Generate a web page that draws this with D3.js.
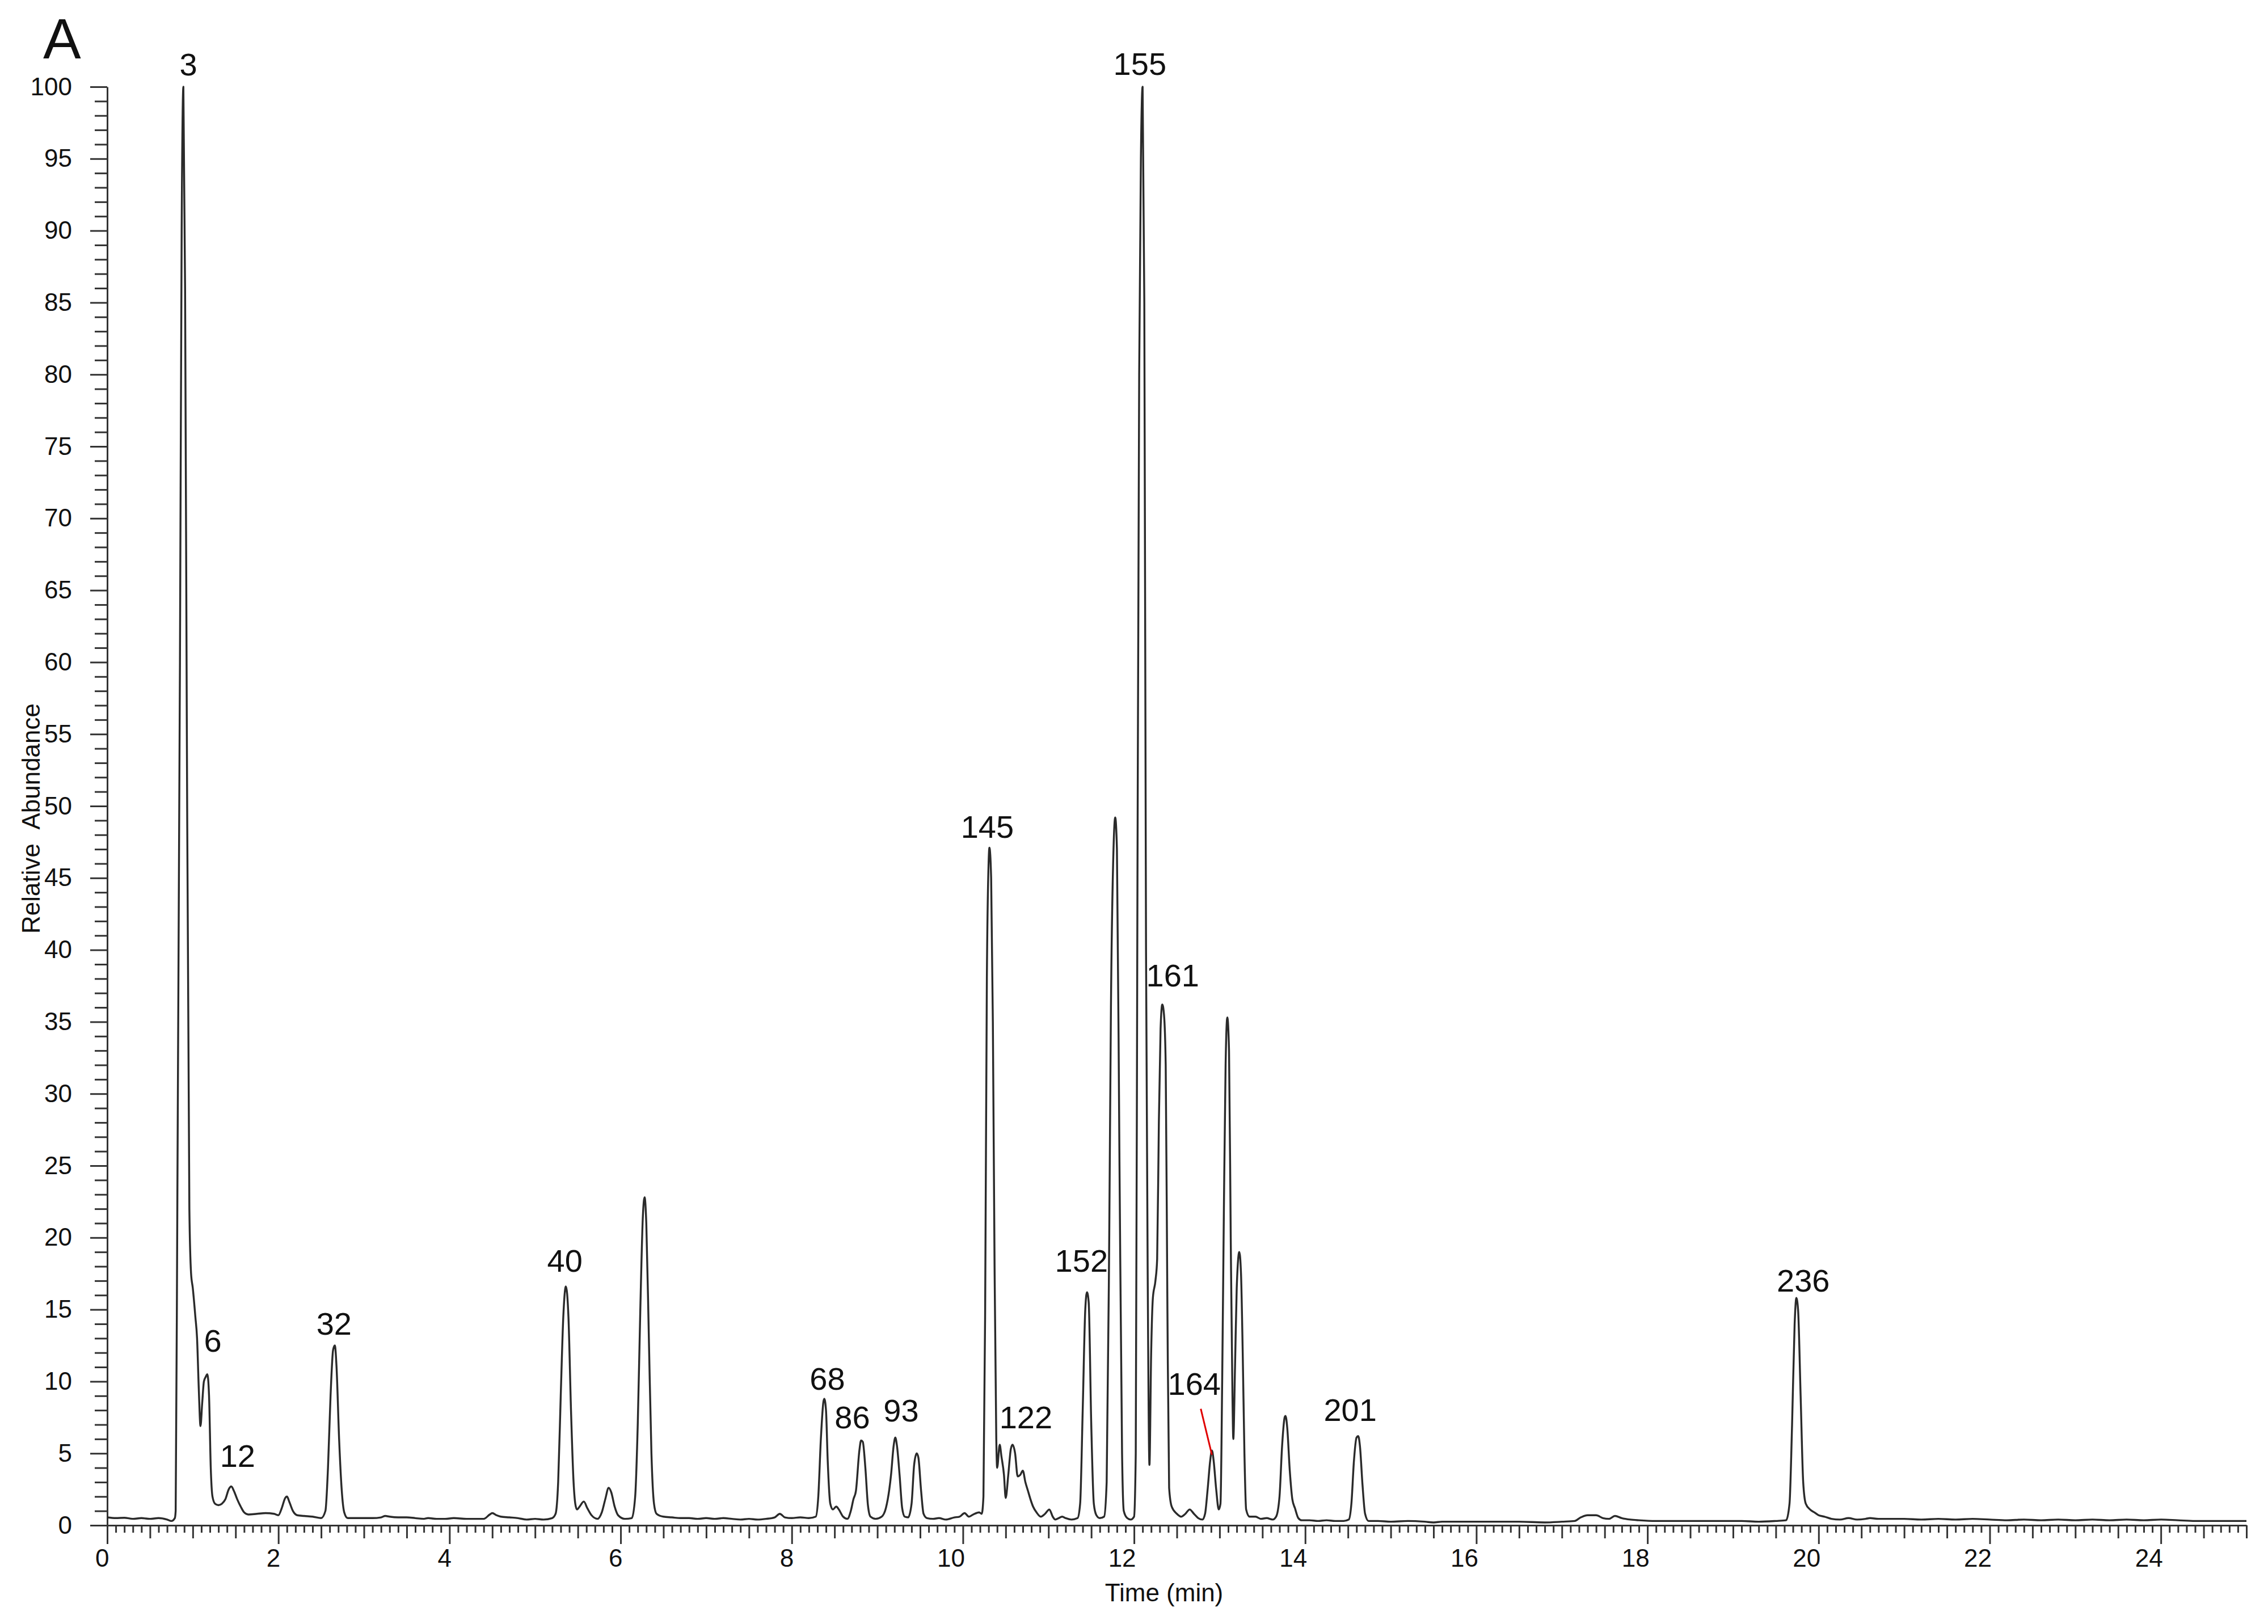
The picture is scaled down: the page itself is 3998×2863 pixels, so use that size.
<!DOCTYPE html>
<html>
<head>
<meta charset="utf-8">
<script src="https://cdn.jsdelivr.net/npm/d3@7"></script>
<style>
  html, body { margin: 0; padding: 0; background: #fff; }
  svg { display: block; }
  text { font-family: "Liberation Sans", Arial, sans-serif; fill: #111; }
</style>
</head>
<body>
<script>
// ---- Data: chromatogram trace (time in min, relative abundance %) ----
const traceTime = [
  0.00,0.10,0.20,0.30,0.40,0.50,0.60,0.70,0.75,0.79,
  0.80,0.82,0.85,0.87,0.89,0.91,0.93,0.96,0.98,1.00,1.03,1.05,1.07,1.09,1.11,1.13,1.15,1.17,1.19,1.21,1.23,1.26,1.30,1.34,1.38,1.42,1.45,1.48,1.52,1.56,1.60,1.65,1.75,1.85,1.95,
  2.00,2.04,2.08,2.10,2.13,2.17,2.22,2.30,2.40,2.50,2.55,2.58,2.61,2.64,2.66,2.68,2.71,2.74,2.77,2.81,2.90,3.00,3.10,3.20,3.25,3.30,3.40,3.50,3.60,3.70,3.75,3.85,3.95,
  4.05,4.20,4.40,4.47,4.50,4.55,4.60,4.70,4.80,4.90,5.00,5.10,5.20,
  5.24,5.27,5.30,5.33,5.36,5.39,5.42,5.45,5.47,5.49,5.52,5.57,5.61,5.66,5.73,5.78,5.82,5.86,5.89,5.93,5.97,
  6.05,6.13,6.17,6.20,6.23,6.26,6.28,6.30,6.33,6.36,6.39,6.42,6.50,6.60,6.70,6.80,6.90,
  7.00,7.10,7.20,7.30,7.40,7.50,7.60,7.70,7.80,7.86,7.92,
  8.00,8.10,8.20,8.28,8.31,8.34,8.37,8.38,8.40,8.42,8.45,8.48,8.52,8.55,8.60,8.65,8.69,8.72,8.75,8.79,8.81,8.83,8.86,8.89,8.92,8.98,
  9.05,9.10,9.14,9.16,9.19,9.21,9.23,9.26,9.29,9.32,9.36,9.40,9.43,9.46,9.48,9.51,9.54,9.58,9.65,9.72,9.80,9.90,9.96,
  10.02,10.07,10.12,10.19,10.22,10.24,10.26,10.28,10.30,10.31,10.33,10.35,10.37,10.39,10.40,10.43,10.45,10.48,10.50,10.53,10.56,10.58,10.61,10.64,10.67,10.70,10.73,10.76,10.79,10.82,10.86,10.91,10.96,
  11.01,11.05,11.08,11.12,11.16,11.20,11.27,11.34,11.37,11.40,11.43,11.45,11.47,11.50,11.53,11.56,11.60,11.65,11.68,11.71,11.73,11.76,11.78,11.80,11.83,11.86,11.88,11.92,11.96,
  12.00,12.02,12.04,12.06,12.08,12.10,12.12,12.14,12.16,12.18,12.20,12.22,12.25,12.27,12.29,12.31,12.33,12.35,12.37,12.39,12.41,12.44,12.50,12.55,12.60,12.65,12.70,12.75,12.80,
  12.83,12.86,12.89,12.91,12.93,12.96,12.99,13.01,13.03,13.05,13.07,13.09,13.11,13.13,13.15,13.16,13.18,13.20,13.23,13.25,13.27,13.29,13.31,13.35,13.42,13.48,13.55,13.62,13.66,
  13.70,13.73,13.76,13.77,13.79,13.82,13.85,13.88,13.92,13.96,14.05,14.15,14.25,14.35,14.45,14.51,
  14.54,14.57,14.60,14.62,14.64,14.67,14.70,14.74,14.85,15.00,15.20,15.40,15.50,15.60,15.80,16.00,16.20,16.50,16.80,17.00,
  17.15,17.22,17.30,17.40,17.48,17.55,17.62,17.70,17.80,17.90,18.10,18.30,18.50,18.70,18.90,19.10,19.30,19.50,19.62,
  19.66,19.69,19.72,19.74,19.76,19.79,19.82,19.85,19.90,19.95,20.00,20.07,20.15,20.25,20.35,20.45,20.55,20.60,20.70,20.85,
  21.00,21.20,21.40,21.60,21.80,22.00,22.20,22.40,22.60,22.80,23.00,23.20,23.40,23.60,23.80,24.00,24.20,24.40,24.60,24.80,25.00
];
const traceAbundance = [
  0.55,0.50,0.52,0.45,0.50,0.45,0.50,0.40,0.30,0.50,
  1.0,23,60,90,100,86,56,22,17.5,16.5,14.5,13.0,9.5,6.9,8.5,10.0,10.3,10.5,9.0,4.0,2.0,1.5,1.4,1.5,1.8,2.5,2.7,2.4,1.8,1.3,0.9,0.75,0.8,0.85,0.8,
  0.7,1.2,1.9,2.0,1.6,1.0,0.7,0.65,0.6,0.5,1.0,4.0,9.0,12.2,12.5,11.0,6.0,2.5,0.9,0.5,0.5,0.5,0.5,0.55,0.65,0.6,0.55,0.55,0.5,0.45,0.5,0.45,0.45,
  0.5,0.45,0.45,0.75,0.85,0.7,0.6,0.55,0.5,0.4,0.45,0.4,0.5,
  0.8,3.0,9.0,14.5,16.6,14.5,8.0,3.0,1.5,1.1,1.3,1.65,1.2,0.7,0.45,0.9,1.8,2.6,2.3,1.3,0.7,
  0.45,0.5,2.0,7.0,15.0,21.5,22.8,21.0,13.0,5.0,1.5,0.8,0.6,0.55,0.5,0.5,0.45,
  0.5,0.45,0.5,0.45,0.4,0.45,0.4,0.45,0.55,0.8,0.55,
  0.5,0.55,0.5,0.6,2.0,6.0,8.6,8.8,8.0,4.5,1.5,1.1,1.3,1.1,0.6,0.45,1.0,1.8,2.4,5.2,5.9,5.8,4.0,1.4,0.6,0.45,
  0.6,1.2,2.5,3.5,5.5,6.1,5.5,3.5,1.2,0.6,0.55,1.5,4.2,5.0,4.7,2.5,0.8,0.5,0.45,0.5,0.4,0.55,0.6,
  0.85,0.6,0.75,0.9,0.8,2.0,15,38,46,47.1,45,35,18,6.0,4.0,5.6,4.8,3.5,1.9,3.5,5.3,5.6,5.0,3.4,3.5,3.8,3.0,2.4,1.8,1.3,0.9,0.6,0.8,
  1.1,0.6,0.4,0.5,0.6,0.5,0.4,0.5,1.5,8.0,15,16.2,15.5,7.0,1.5,0.7,0.5,0.6,3.0,20,36,47,49.2,47,25,5.0,1.0,0.5,0.4,
  0.6,5.0,45,80,95,100,85,40,17,4.2,12,15.8,17,18.5,28,34.5,36.2,35.5,32,15,2.6,1.3,0.8,0.6,0.8,1.1,0.8,0.5,0.4,
  0.8,2.5,4.5,5.2,4.5,2.5,1.1,1.5,10,22,32,35.3,33,20,9.0,6.0,11,16.5,19.0,17.5,12,5.0,1.1,0.6,0.6,0.45,0.5,0.4,0.6,
  2.0,5.5,7.5,7.6,6.8,3.8,1.8,1.2,0.5,0.35,0.35,0.3,0.35,0.3,0.3,0.4,
  1.5,4.5,6.1,6.2,5.5,2.8,0.8,0.3,0.3,0.25,0.3,0.25,0.2,0.25,0.25,0.25,0.25,0.25,0.2,0.25,
  0.3,0.55,0.7,0.7,0.5,0.45,0.65,0.5,0.4,0.35,0.3,0.3,0.3,0.3,0.3,0.3,0.25,0.3,0.35,
  1.5,7.0,14,15.8,15,9.0,3.0,1.5,1.1,0.9,0.7,0.6,0.45,0.4,0.5,0.4,0.45,0.5,0.45,0.45,
  0.45,0.4,0.45,0.4,0.45,0.4,0.35,0.4,0.35,0.4,0.35,0.4,0.35,0.4,0.35,0.4,0.35,0.3,0.3,0.3,0.3
];

// Peak annotations: compound number, retention time of label, label height (% abundance)
const peakLabels    = ["3","6","12","32","40","68","86","93","145","122","152","155","161","164","201","236"];
const peakLabelTime = [0.948,1.233,1.524,2.651,5.348,8.416,8.708,9.278,10.285,10.736,11.385,12.068,12.452,12.704,14.526,19.821];
const peakLabelAbund= [100.8,12.07,4.06,13.25,17.63,9.42,6.74,7.22,47.79,6.74,17.63,100.83,37.46,9.07,7.26,16.25];

// Callout for peak 164 (from label to peak)
const calloutTime  = [12.78, 12.91];
const calloutAbund = [8.1, 4.9];

// Axis ticks
const yMajorTicks = d3.range(0, 101, 5);
const yMinorTicks = d3.range(0, 101, 1).filter(v => v % 5 !== 0);
const xMajorTicks = d3.range(0, 25, 2);
const xMidTicks   = d3.range(0, 25.01, 0.5).filter(v => Math.abs(v / 2 - Math.round(v / 2)) > 1e-6);
const xMinorTicks = d3.range(0, 250, 1).map(i => i / 10).filter(v => Math.abs(v * 2 - Math.round(v * 2)) > 1e-6);

const panelLabel = "A";
const xTitle = "Time (min)";
const yTitle = "Relative\u00a0\u00a0Abundance";

// ---- Layout ----
const W = 3998, H = 2863;
const X0 = 189, X1 = 3960, Y0 = 2689, Y1 = 153;

const svg = d3.select("body").append("svg").attr("width", W).attr("height", H);

const x = d3.scaleLinear().domain([0, 25]).range([X0, X1]);
const y = d3.scaleLinear().domain([0, 100]).range([Y0, Y1]);

const axisColor = "#333";

// Y axis
const gY = svg.append("g").attr("transform", `translate(${X0},0)`);
gY.call(d3.axisLeft(y).tickValues(yMinorTicks).tickSize(22).tickSizeOuter(0).tickFormat(""));
gY.call(g => g.select(".domain").remove());
const gY2 = svg.append("g").attr("transform", `translate(${X0},0)`);
gY2.call(d3.axisLeft(y).tickValues(yMajorTicks).tickSize(30).tickSizeOuter(0).tickPadding(32).tickFormat(d3.format("d")));
[gY, gY2].forEach(g => {
  g.selectAll("line").attr("stroke", axisColor).attr("stroke-width", 3);
  g.selectAll("path").attr("stroke", axisColor).attr("stroke-width", 3);
  g.selectAll("text").attr("font-size", 44).attr("font-family", "Liberation Sans, Arial, sans-serif").attr("fill", "#111");
});

// X axis
const gX1 = svg.append("g").attr("transform", `translate(0,${Y0})`)
  .call(d3.axisBottom(x).tickValues(xMinorTicks).tickSize(13).tickSizeOuter(0).tickFormat(""));
gX1.select(".domain").remove();
const gX2 = svg.append("g").attr("transform", `translate(0,${Y0})`)
  .call(d3.axisBottom(x).tickValues(xMidTicks).tickSize(23).tickSizeOuter(0).tickFormat(""));
gX2.select(".domain").remove();
const gX3 = svg.append("g").attr("transform", `translate(0,${Y0})`)
  .call(d3.axisBottom(x).tickValues(xMajorTicks).tickSize(33).tickSizeOuter(0).tickFormat(d3.format("d")));
gX3.selectAll("text").attr("text-anchor", "end").attr("x", 3).attr("y", 73).attr("dy", 0);
[gX1, gX2, gX3].forEach(g => {
  g.selectAll("line").attr("stroke", axisColor).attr("stroke-width", 3);
  g.selectAll("path").attr("stroke", axisColor).attr("stroke-width", 3);
  g.selectAll("text").attr("font-size", 44).attr("font-family", "Liberation Sans, Arial, sans-serif").attr("fill", "#111");
});

// Trace
const pts = traceTime.map((t, i) => [t, traceAbundance[i]]);
svg.append("path")
  .datum(pts)
  .attr("fill", "none")
  .attr("stroke", "#2a2a2a")
  .attr("stroke-width", 3.4)
  .attr("stroke-linejoin", "round")
  .attr("d", d3.line().x(d => x(d[0])).y(d => y(d[1])).curve(d3.curveMonotoneX));

// Peak labels
svg.append("g").selectAll("text")
  .data(peakLabels)
  .join("text")
  .attr("x", (d, i) => x(peakLabelTime[i]))
  .attr("y", (d, i) => y(peakLabelAbund[i]))
  .attr("text-anchor", "middle")
  .attr("font-size", 56)
  .text(d => d);

// Callout line
svg.append("line")
  .attr("x1", x(calloutTime[0])).attr("y1", y(calloutAbund[0]))
  .attr("x2", x(calloutTime[1])).attr("y2", y(calloutAbund[1]))
  .attr("stroke", "#e00000").attr("stroke-width", 3);

// Titles
svg.append("text").attr("x", 76).attr("y", 103).attr("font-size", 100).text(panelLabel);
svg.append("text")
  .attr("x", 2052).attr("y", 2823)
  .attr("text-anchor", "middle").attr("font-size", 44).text(xTitle);
svg.append("text")
  .attr("transform", "translate(70,1443) rotate(-90)")
  .attr("text-anchor", "middle").attr("font-size", 44).text(yTitle);
</script>
</body>
</html>
